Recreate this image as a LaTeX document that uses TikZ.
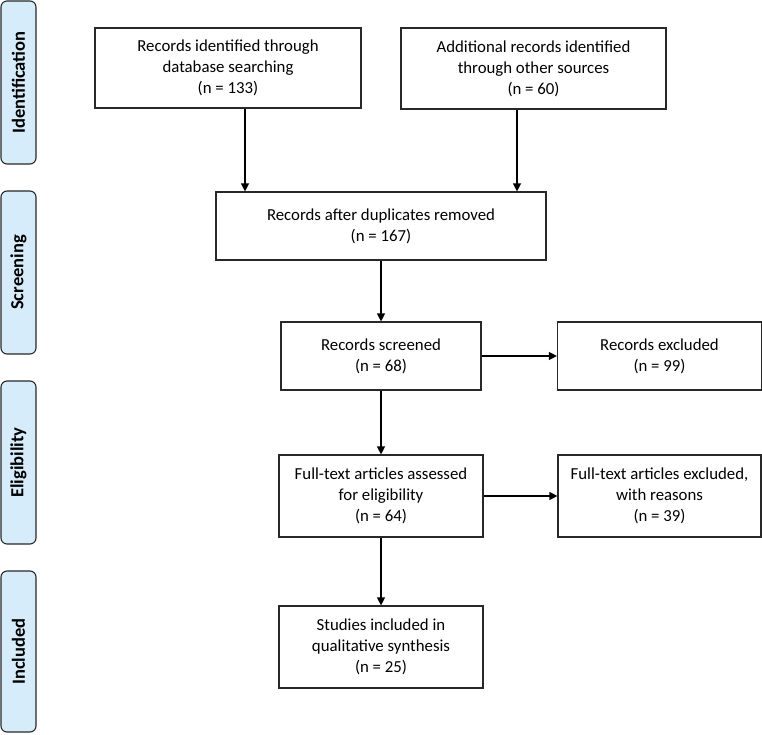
\documentclass[tikz,border=0pt]{standalone}
\usepackage{fontspec}
\setmainfont{Carlito}
\usetikzlibrary{arrows.meta,calc}
\definecolor{tabfill}{RGB}{214,236,250}
\definecolor{edge}{RGB}{40,40,40}
\begin{document}
\begin{tikzpicture}[x=1pt,y=-1pt,
  box/.style={draw=edge,line width=1.2pt,fill=white,align=center,font=\fontsize{16.8}{21}\selectfont,inner sep=0pt},
  tab/.style={draw=edge,line width=1.1pt,fill=tabfill,rounded corners=6pt,minimum width=35pt,inner sep=0pt},
  tablabel/.style={rotate=90,font=\bfseries\fontsize{18.5}{22}\selectfont},
  arr/.style={line width=1.3pt,-{Triangle[length=8pt,width=8pt]}}]
\useasboundingbox (0,0) rectangle (762,735);
% phase tabs
\node[tab,minimum height=163pt] (t1) at (18.5,82.5) {};
\node[tablabel] (l1) at (t1.center) {Identification};
\node[tab,minimum height=163pt] (t2) at (18.5,272.5) {};
\node[tablabel] (l2) at (t2.center) {Screening};
\node[tab,minimum height=163pt] (t3) at (18.5,462.5) {};
\node[tablabel] (l3) at (t3.center) {Eligibility};
\node[tab,minimum height=161pt] (t4) at (18.5,651.5) {};
\node[tablabel] (l4) at (t4.center) {Included};
% boxes
\node[box,minimum width=266pt,minimum height=80pt] (b1) at (228,68) {Records identified through\\database searching\\(n = 133)};
\node[box,minimum width=265pt,minimum height=81pt] (b2) at (533.5,68.5) {Additional records identified\\through other sources\\(n = 60)};
\node[box,minimum width=330pt,minimum height=68pt] (b3) at (381,226) {Records after duplicates removed\\(n = 167)};
\node[box,minimum width=200pt,minimum height=68pt] (b4) at (381,356) {Records screened\\(n = 68)};
\node[box,minimum width=204pt,minimum height=68pt] (b5) at (659.5,356) {Records excluded\\(n = 99)};
\node[box,minimum width=204pt,minimum height=82pt] (b6) at (381,496) {Full-text articles assessed\\for eligibility\\(n = 64)};
\node[box,minimum width=203pt,minimum height=82pt] (b7) at (659.5,496) {Full-text articles excluded,\\with reasons\\(n = 39)};
\node[box,minimum width=204pt,minimum height=82pt] (b8) at (381,647) {Studies included in\\qualitative synthesis\\(n = 25)};
% connectors
\coordinate (xa) at (245,0);
\coordinate (xb) at (517,0);
\draw[arr] (b1.south -| xa) -- (b3.north -| xa);
\draw[arr] (b2.south -| xb) -- (b3.north -| xb);
\draw[arr] (b3) -- (b4);
\draw[arr] (b4) -- (b5);
\draw[arr] (b4) -- (b6);
\draw[arr] (b6) -- (b7);
\draw[arr] (b6) -- (b8);
\end{tikzpicture}
\end{document}
